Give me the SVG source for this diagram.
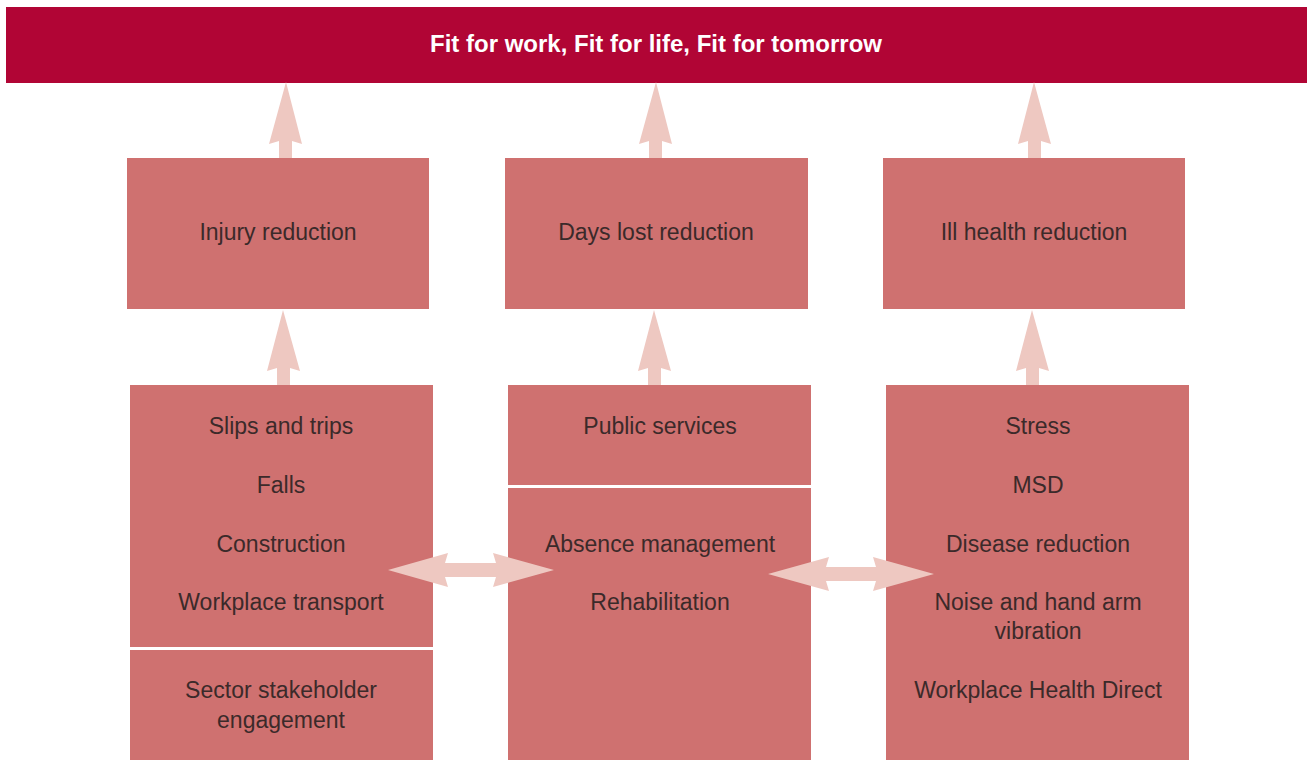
<svg xmlns="http://www.w3.org/2000/svg" width="1307" height="760" viewBox="0 0 1307 760">
<style>
.box{fill:#cf7170}
.t{font-family:"Liberation Sans",Arial,Helvetica,sans-serif;font-size:23px;fill:#3b2a2a;text-anchor:middle}
.arr{fill:#eec8c1}
</style>
<rect width="1307" height="760" fill="#ffffff"/>
<g id="banner">
<rect x="6" y="7" width="1301" height="76" fill="#b10535"/>
<text x="656" y="52" font-family="'Liberation Sans',Arial,sans-serif" font-size="24" font-weight="bold" fill="#ffffff" text-anchor="middle">Fit for work, Fit for life, Fit for tomorrow</text>
</g>
<g id="injury-reduction">
<rect class="box" x="127" y="158" width="302" height="151"/>
<text class="t" x="278" y="240">Injury reduction</text>
</g>
<g id="days-lost-reduction">
<rect class="box" x="505" y="158" width="303" height="151"/>
<text class="t" x="656" y="240">Days lost reduction</text>
</g>
<g id="ill-health-reduction">
<rect class="box" x="883" y="158" width="302" height="151"/>
<text class="t" x="1034" y="240">Ill health reduction</text>
</g>
<g id="injury-topics">
<rect class="box" x="130" y="385" width="303" height="262"/>
<text class="t" x="281" y="434">Slips and trips</text>
<text class="t" x="281" y="493">Falls</text>
<text class="t" x="281" y="552">Construction</text>
<text class="t" x="281" y="610">Workplace transport</text>
</g>
<g id="sector-stakeholder">
<rect class="box" x="130" y="650" width="303" height="110"/>
<text class="t" x="281" y="698">Sector stakeholder</text>
<text class="t" x="281" y="728">engagement</text>
</g>
<g id="public-services">
<rect class="box" x="508" y="385" width="303" height="100"/>
<text class="t" x="660" y="434">Public services</text>
</g>
<g id="absence-management">
<rect class="box" x="508" y="488" width="303" height="272"/>
<text class="t" x="660" y="552">Absence management</text>
<text class="t" x="660" y="610">Rehabilitation</text>
</g>
<g id="ill-health-topics">
<rect class="box" x="886" y="385" width="303" height="375"/>
<text class="t" x="1038" y="434">Stress</text>
<text class="t" x="1038" y="493">MSD</text>
<text class="t" x="1038" y="552">Disease reduction</text>
<text class="t" x="1038" y="610">Noise and hand arm</text>
<text class="t" x="1038" y="639">vibration</text>
<text class="t" x="1038" y="698">Workplace Health Direct</text>
</g>
<g id="connectors">
<polygon class="arr" points="286,82 302,144 292,141 292,158 279,158 279,141 269,144"/>
<polygon class="arr" points="656,82 672,144 662,141 662,158 649,158 649,141 639,144"/>
<polygon class="arr" points="1034,82 1051,144 1041,141 1041,158 1028,158 1028,141 1018,144"/>
<polygon class="arr" points="283,310 300,371 290,368 290,385 277,385 277,368 267,371"/>
<polygon class="arr" points="654,310 671,371 661,368 661,385 648,385 648,368 638,371"/>
<polygon class="arr" points="1032,310 1049,371 1039,368 1039,385 1026,385 1026,368 1016,371"/>
<polygon class="arr" points="388,570 448,553 445,563 496,563 493,553 554,570 493,587 496,577 445,577 448,587"/>
<polygon class="arr" points="768,574 829,557 826,567 876,567 873,557 934,574 873,591 876,581 826,581 829,591"/>
</g>
</svg>
